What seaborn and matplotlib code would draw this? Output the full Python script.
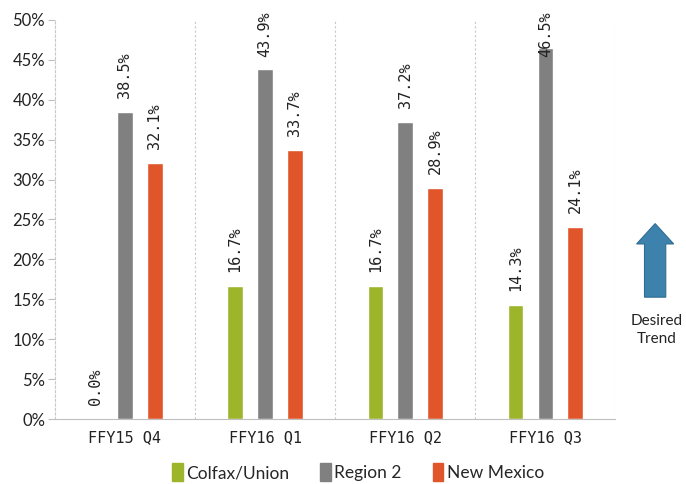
import pandas as pd
import matplotlib.pyplot as plt
import seaborn as sns
from matplotlib.patches import FancyArrow

quarters = ["FFY15 Q4", "FFY16 Q1", "FFY16 Q2", "FFY16 Q3"]
colfax_union = [0.0, 16.7, 16.7, 14.3]
region_2 = [38.5, 43.9, 37.2, 46.5]
new_mexico = [32.1, 33.7, 28.9, 24.1]
series_names = ["Colfax/Union", "Region 2", "New Mexico"]
colors = ["#9cb52a", "#808080", "#e0552a"]

rows = []
for name, vals in zip(series_names, [colfax_union, region_2, new_mexico]):
    for q, v in zip(quarters, vals):
        rows.append({"quarter": q, "series": name, "value": v})
df = pd.DataFrame(rows)

sns.set_style("white")
narrow = ["Lato", "DejaVu Sans"]

fig = plt.figure(figsize=(6.86, 4.84), dpi=100)
ax = fig.add_axes([0.080, 0.134, 0.817, 0.825])

sns.barplot(data=df, x="quarter", y="value", hue="series", palette=colors,
            width=0.64, gap=0.48, saturation=1, ax=ax, legend=False)

# value labels above bars; kept inside the plot like Excel does
for cont in ax.containers:
    for b in cont:
        h = b.get_height()
        ypos = min(h + 1.75, 45.3)
        ax.text(b.get_x() + b.get_width() / 2, ypos, f"{h:.1f}%", rotation=90,
                ha="center", va="bottom", fontfamily="DejaVu Sans Mono",
                fontsize=11, color="#222222")

ax.set_xlim(-0.5, 3.5)
ax.set_ylim(0, 50)
ax.set_yticks(range(0, 51, 5))
ax.set_yticklabels([f"{t}%" for t in range(0, 51, 5)], fontfamily=narrow,
                   fontsize=12, color="#222222")
ax.set_xticks(range(4))
ax.set_xticklabels(quarters, fontfamily="DejaVu Sans Mono", fontsize=11,
                   color="#222222")
ax.set_xlabel("")
ax.set_ylabel("")

# group separators
for xs in [0.5, 1.5, 2.5, 3.5]:
    ax.axvline(xs, color="#c8c8c8", linestyle=(0, (2, 2)), linewidth=0.8)
ax.set_xticks([-0.5, 0.5, 1.5, 2.5, 3.5], minor=True)
ax.tick_params(axis="x", which="minor", length=5, color="#bfbfbf", direction="out")
ax.tick_params(axis="x", which="major", length=0, pad=8)
ax.tick_params(axis="y", length=5, color="#bfbfbf", direction="out", left=True, pad=2)

for s in ["top", "right"]:
    ax.spines[s].set_visible(False)
ax.spines["left"].set_color("#c8c8c8")
ax.spines["left"].set_linestyle((0, (2, 2)))
ax.spines["bottom"].set_color("#bfbfbf")

handles = [plt.Rectangle((0, 0), 1, 1, color=c) for c in colors]
fig.legend(handles, series_names, loc="center", bbox_to_anchor=(0.522, 0.024),
           ncol=3, frameon=False, handlelength=0.6, handleheight=1.2,
           handletextpad=0.2, columnspacing=1.8, prop={"family": narrow, "size": 12.5})

# desired trend arrow
arrow = FancyArrow(0.955, 0.386, 0, 0.152, width=0.031, head_width=0.054,
                   head_length=0.042, length_includes_head=True,
                   transform=fig.transFigure, color="#3d82ad", ec="#2f6c92", lw=0.8)
fig.patches.append(arrow)
fig.text(0.957, 0.318, "Desired\nTrend", ha="center", va="center",
         fontfamily=narrow, fontsize=11, color="#222222", linespacing=1.4)

plt.savefig("out.png", dpi=100)
